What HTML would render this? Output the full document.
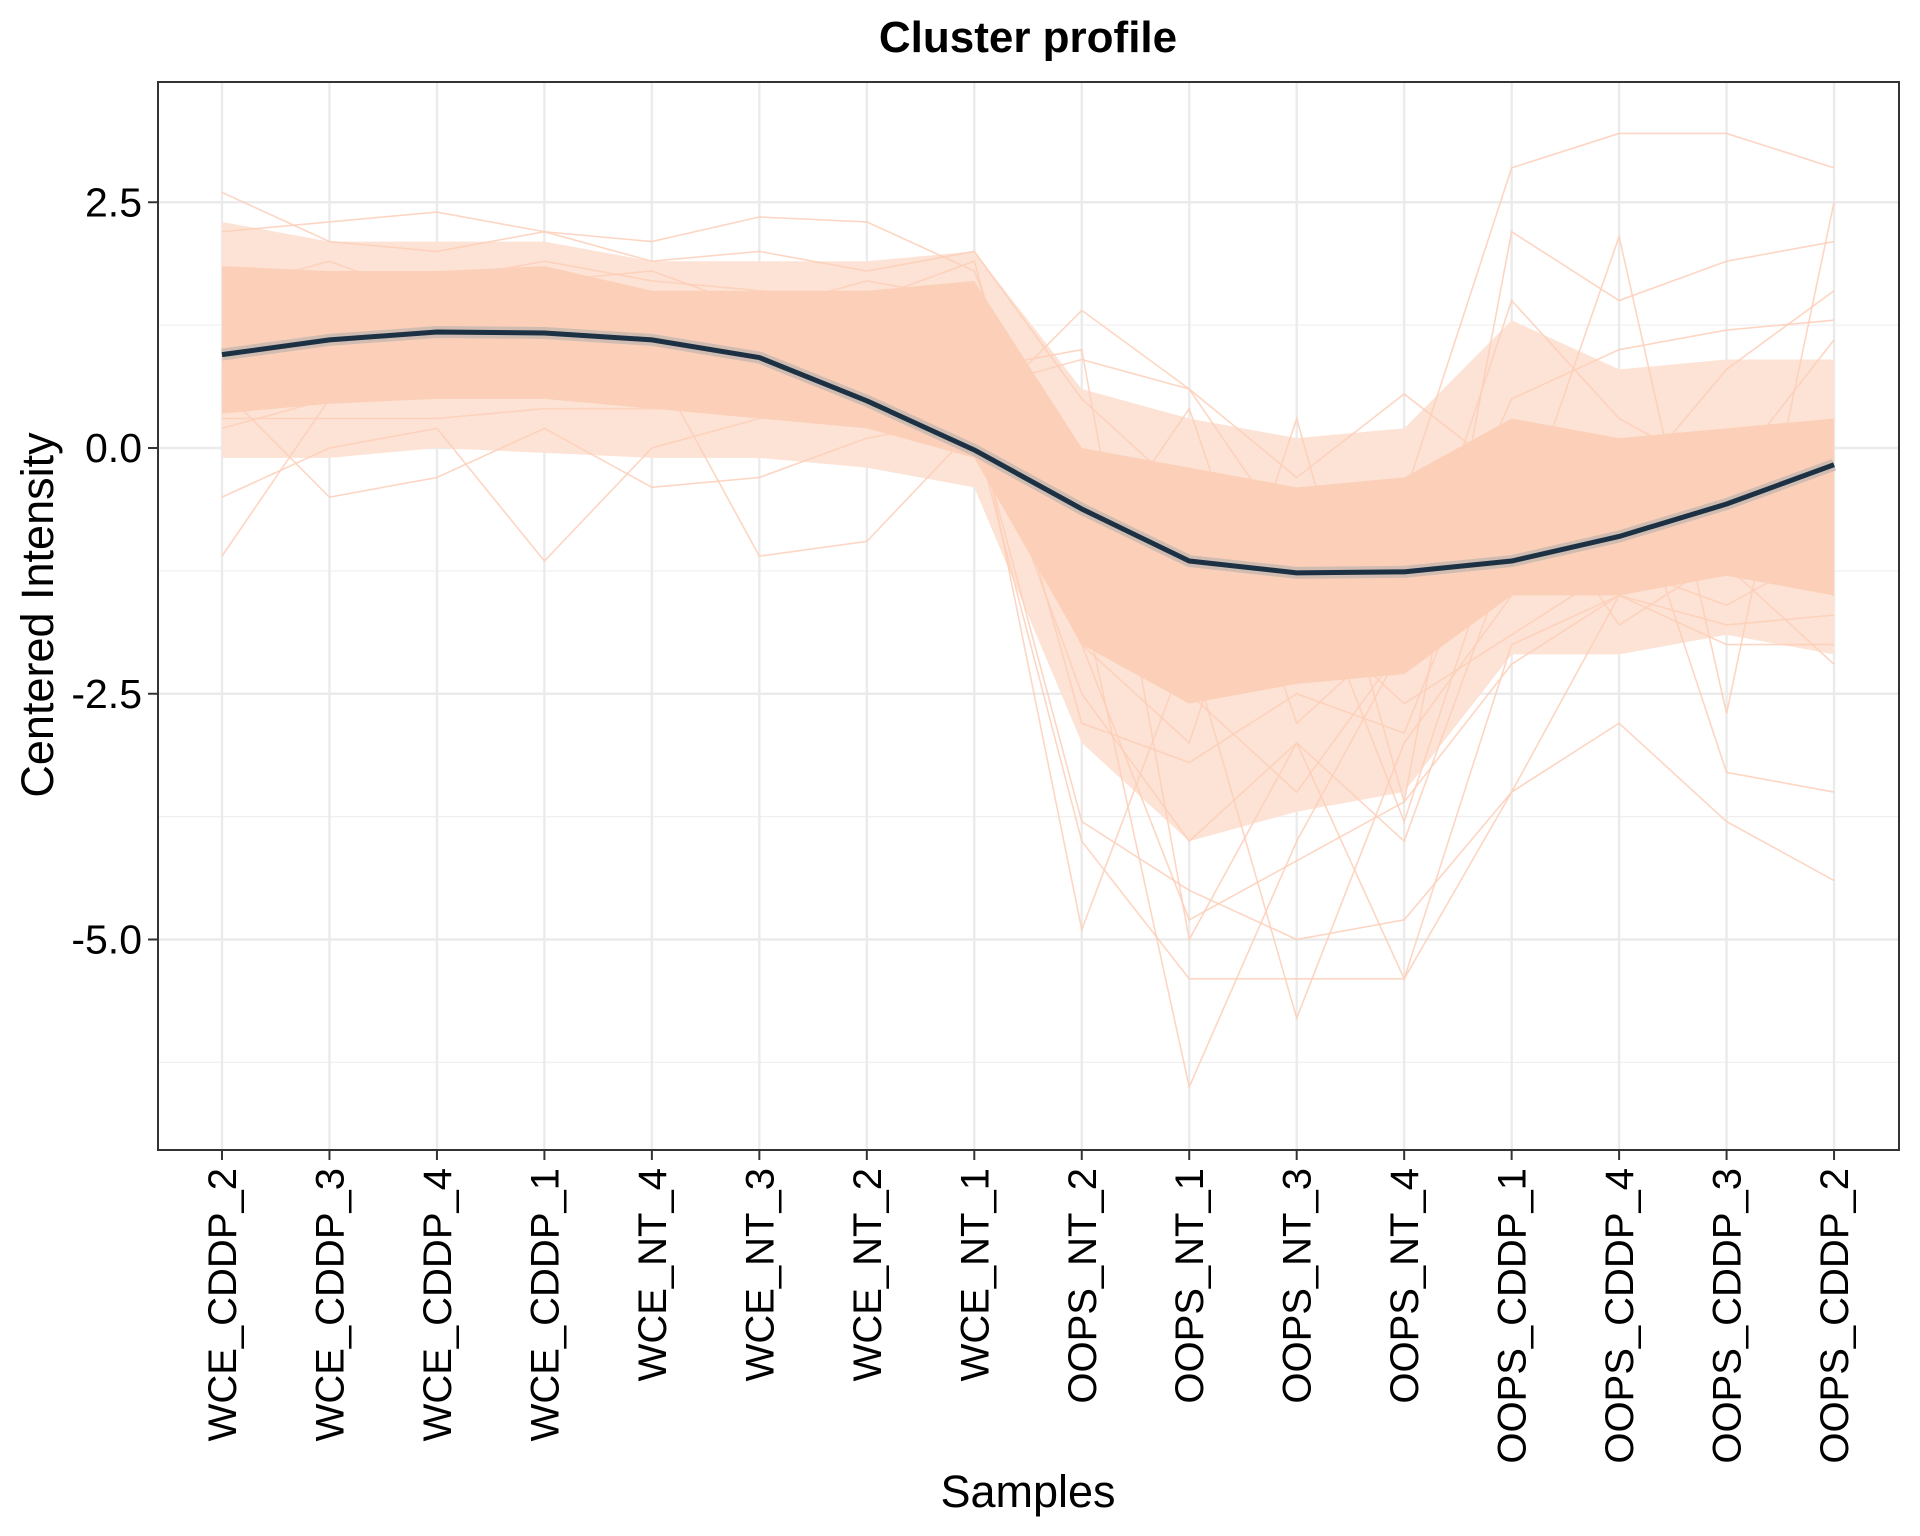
<!DOCTYPE html>
<html><head><meta charset="utf-8"><style>
html,body{margin:0;padding:0;background:#fff;}
svg{display:block;font-family:"Liberation Sans",Arial,sans-serif;}
</style></head><body>
<svg id="chart" width="1920" height="1536" viewBox="0 0 1920 1536">
<text x="1028" y="52" text-anchor="middle" font-size="44" font-weight="bold">Cluster profile</text>
<g id="grid"></g>
<g id="bands"></g>
<g id="lines"></g>
<g id="mean"></g>
<rect x="158" y="82" width="1741" height="1068" fill="none" stroke="#333" stroke-width="2"/>
<g id="axes"></g>
<text transform="translate(53,615) rotate(-90)" text-anchor="middle" font-size="45">Centered Intensity</text>
<text x="1028" y="1507" text-anchor="middle" font-size="45">Samples</text>
</svg>
<script>
const samples=["WCE_CDDP_2","WCE_CDDP_3","WCE_CDDP_4","WCE_CDDP_1","WCE_NT_4","WCE_NT_3","WCE_NT_2","WCE_NT_1","OOPS_NT_2","OOPS_NT_1","OOPS_NT_3","OOPS_NT_4","OOPS_CDDP_1","OOPS_CDDP_4","OOPS_CDDP_3","OOPS_CDDP_2"];
const meanVals=[0.95,1.1,1.18,1.17,1.1,0.92,0.48,-0.02,-0.62,-1.15,-1.27,-1.26,-1.15,-0.9,-0.57,-0.17];
const outerLow=[-0.1,-0.1,0,-0.05,-0.1,-0.1,-0.2,-0.4,-3.0,-4.0,-3.7,-3.5,-2.1,-2.1,-1.9,-2.1];
const outerHigh=[2.3,2.1,2.1,2.1,1.9,1.9,1.9,2.0,0.6,0.3,0.1,0.2,1.3,0.8,0.9,0.9];
const coreLow=[0.35,0.45,0.5,0.5,0.4,0.3,0.2,-0.1,-2.0,-2.6,-2.4,-2.3,-1.5,-1.5,-1.3,-1.5];
const coreHigh=[1.85,1.8,1.8,1.85,1.6,1.6,1.6,1.7,0.0,-0.2,-0.4,-0.3,0.3,0.1,0.2,0.3];
const profiles=[
[2.6,2.1,2.0,2.2,1.9,2.0,1.8,2.0,0.5,-0.5,-1,-0.5,2.85,3.2,3.2,2.85],
[-1.1,0.5,0.8,0.6,0.5,0.7,0.8,0.9,-1.5,-6.5,-4,-2,-1,-0.5,-1,-1.5],
[-0.5,0,0.2,-1.15,0,0.3,0.5,0.5,-4.9,-2,-5.8,-3,-1.5,-1,-0.5,-0.5],
[1.5,1.2,1.0,1.0,0.9,-1.1,-0.95,0.2,-4,-5.4,-5.4,-5.4,-3.5,-2.8,-3.8,-4.4],
[0.3,0.3,0.3,0.4,0.4,0.4,0.4,0.3,1.4,0.6,-1,-3.8,-0.5,0,-3.3,-3.5],
[1,0.8,0.9,1,1,0.9,1,0.8,1,-5,-3,-5.4,-2,-1.5,-2,-2],
[1.8,1.6,1.7,1.9,1.7,1.6,1.5,1.9,-2,-3,0.3,-3.6,2.2,1.5,1.9,2.1],
[1.2,1.3,1.4,1.3,1.2,1,0.8,0.5,-2.5,-4,-3,-4,-1,2.15,-2.7,2.5],
[0.8,1,1,1,1,1,0.8,0.6,0.9,0.6,-0.3,0.55,-0.3,-0.5,0.8,1.6],
[0.2,0.5,0.6,0.7,0.6,0.5,0.3,0.1,-2,-4.8,-4.2,-3.6,-2.2,-1.5,-1.2,-2.2],
[2.2,2.3,2.4,2.2,2.1,2.35,2.3,1.8,-1,-2.5,-3.5,-2,0.5,1,1.2,1.3],
[0.6,-0.5,-0.3,0.2,-0.4,-0.3,0.1,0.3,-3.8,-4.5,-5,-4.8,-3.5,-1.5,-1.8,-1.7],
[1.4,1.5,1.3,1.5,1.4,1.3,1.2,1.1,-2.8,-3.2,-2.5,-2.9,-0.2,-1.8,-1.1,-0.8],
[0.9,0.7,1.2,0.8,1.3,0.6,0.7,1.4,-1.2,0.4,-2.8,-1.8,1.5,0.3,-0.3,1.1],
[1.6,1.9,1.5,1.7,1.8,1.4,1.7,1.5,-1.8,-1.0,-1.9,-0.8,-0.6,-0.3,-0.9,-0.4],
[0.5,0.7,0.9,0.6,0.8,0.7,0.4,0.0,-0.9,-2.2,-1.6,-2.6,-1.9,-1.2,-1.6,-1.0]
];
const ns="http://www.w3.org/2000/svg";
const X0=158,X1=1899,Y0=82,Y1=1150,xFirst=222,xStep=107.47;
function xs(i){return xFirst+i*xStep;}
function ys(v){return 448-v*98.3;}
function mk(tag,attrs,parent){const e=document.createElementNS(ns,tag);for(const k in attrs)e.setAttribute(k,attrs[k]);parent.appendChild(e);return e;}
const grid=document.getElementById('grid'),bands=document.getElementById('bands'),lines=document.getElementById('lines'),mean=document.getElementById('mean'),axes=document.getElementById('axes');
const yTicks=[2.5,0,-2.5,-5];const yTickLabels=["2.5","0.0","-2.5","-5.0"];
const yMinor=[1.25,-1.25,-3.75,-6.25];
yMinor.forEach(v=>{const l=mk('line',{x1:X0,x2:X1,y1:ys(v),y2:ys(v),stroke:'#f0f0f0','stroke-width':1.2},grid);

});
yTicks.forEach((v,i)=>{const l=mk('line',{x1:X0,x2:X1,y1:ys(v),y2:ys(v),stroke:'#ebebeb','stroke-width':2.4},grid);


const t=mk('line',{x1:X0-10,x2:X0,y1:ys(v),y2:ys(v),stroke:'#333','stroke-width':2},axes);


const tx=mk('text',{x:X0-16,y:ys(v)+14,'text-anchor':'end','font-size':41},axes);tx.textContent=yTickLabels[i];

});
samples.forEach((s,i)=>{const x=xs(i);
const l=mk('line',{x1:x,x2:x,y1:Y0,y2:Y1,stroke:'#ebebeb','stroke-width':2.4},grid);


const t=mk('line',{x1:x,x2:x,y1:Y1,y2:Y1+10,stroke:'#333','stroke-width':2},axes);


const tx=mk('text',{transform:`translate(${x+14},1168) rotate(-90)`,'text-anchor':'end','font-size':40},axes);tx.textContent=s;

});
function band(lo,hi,fill,name){let d='M'+hi.map((v,i)=>xs(i)+','+ys(v)).join('L')+'L'+lo.map((v,i)=>xs(i)+','+ys(v)).reverse().join('L')+'Z';
const p=mk('path',{d:d,fill:fill},bands);

}
band(outerLow,outerHigh,'#fde3d5','outer-band');
band(coreLow,coreHigh,'#fcd0b8','core-band');
profiles.forEach(p=>{const pl=mk('polyline',{points:p.map((v,i)=>xs(i)+','+ys(v)).join(' '),fill:'none',stroke:'#fdcfb8','stroke-width':1.6,'stroke-opacity':0.85},lines);

});
const pts=meanVals.map((v,i)=>xs(i)+','+ys(v)).join(' ');
const rib=mk('polyline',{points:pts,fill:'none',stroke:'#bdb3ae','stroke-width':12,'stroke-linejoin':'round','stroke-opacity':0.7},mean);


const ml=mk('polyline',{points:pts,fill:'none',stroke:'#1c3144','stroke-width':5,'stroke-linejoin':'round'},mean);


</script>
</body></html>
